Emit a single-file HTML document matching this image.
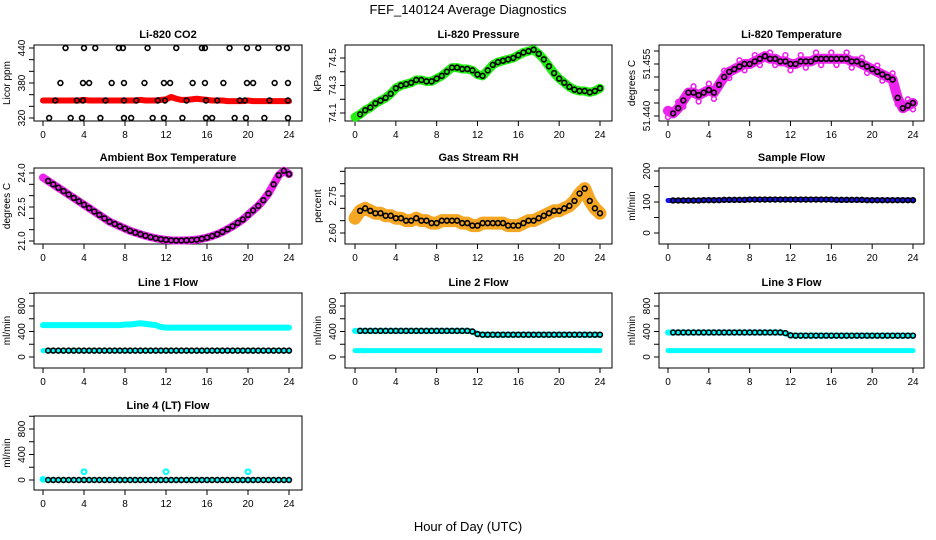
<!DOCTYPE html>
<html><head><meta charset="utf-8">
<style>
html,body{margin:0;padding:0;background:#fff;}
svg{display:block;font-family:"Liberation Sans",sans-serif;}
</style></head>
<body>
<svg id="chart" width="936" height="540" viewBox="0 0 936 540">
<text x="468" y="14" text-anchor="middle" font-size="13">FEF_140124  Average Diagnostics</text>
<text x="468" y="531" text-anchor="middle" font-size="13">Hour of Day (UTC)</text>
</svg>
<script>
// ---- data ----
const hours = [0,0.5,1,1.5,2,2.5,3,3.5,4,4.5,5,5.5,6,6.5,7,7.5,8,8.5,9,9.5,10,10.5,11,11.5,12,12.5,13,13.5,14,14.5,15,15.5,16,16.5,17,17.5,18,18.5,19,19.5,20,20.5,21,21.5,22,22.5,23,23.5,24];
const xTicks = [0,4,8,12,16,20,24];
const co2Red = [350,350,350,350,350,350,350,350,351,350,350,350,350,350,350,350,350,350,350,351,350,350,350,351,352,356,353,351,351,352,353,352,351,350,350,350,349,349,349,349,350,349,349,349,349,349,349,349,349];
const co2BlackHours = [2.2,4,5.1,7.4,7.8,10.2,13,15.5,15.8,18.2,19.9,21,23,23.8,1.7,3.9,4.5,6.7,7.9,9.9,11.8,12.4,14.6,15.8,17.6,19.9,20.5,22.6,23.9,0.6,2.7,3.8,5.6,7.9,8.6,10.7,11.8,13.6,15.9,16.5,18.7,19.8,21.6,23.9,1.2,3.3,3.9,6.1,7.9,9.1,11.2,11.9,14.0,15.9,17.0,19.2,19.7,22.1,23.9];
const co2Black = [440,440,440,440,440,440,440,440,440,440,440,440,440,440,380,380,380,380,380,380,380,380,380,380,380,380,380,380,380,320,320,320,320,320,320,320,320,320,320,320,320,320,320,320,350,350,350,350,350,350,350,350,350,350,350,350,350,350,350];
const pressure = [74.07,74.09,74.12,74.14,74.17,74.19,74.21,74.24,74.28,74.30,74.31,74.32,74.34,74.34,74.33,74.33,74.35,74.37,74.40,74.43,74.43,74.42,74.42,74.41,74.38,74.37,74.41,74.45,74.47,74.48,74.49,74.50,74.52,74.54,74.55,74.56,74.53,74.49,74.44,74.39,74.35,74.32,74.29,74.27,74.26,74.26,74.25,74.26,74.28];
const liTemp = [51.441,51.4405,51.4415,51.443,51.4445,51.4445,51.444,51.4445,51.445,51.4445,51.446,51.4475,51.4485,51.449,51.4495,51.450,51.450,51.4505,51.451,51.4515,51.451,51.451,51.4505,51.4505,51.450,51.450,51.4505,51.4505,51.4505,51.451,51.451,51.451,51.451,51.451,51.451,51.451,51.4505,51.4505,51.450,51.4495,51.449,51.4485,51.448,51.4475,51.447,51.4435,51.4415,51.442,51.4425];
const ambient = [23.8,23.65,23.5,23.35,23.2,23.05,22.9,22.75,22.6,22.45,22.3,22.15,22.0,21.85,21.75,21.65,21.55,21.45,21.37,21.3,21.23,21.17,21.12,21.08,21.05,21.03,21.02,21.02,21.03,21.04,21.06,21.1,21.15,21.22,21.3,21.4,21.52,21.65,21.8,21.95,22.15,22.35,22.55,22.8,23.1,23.5,23.9,24.1,23.95];
const rh = [2.66,2.69,2.70,2.69,2.68,2.68,2.67,2.67,2.66,2.66,2.65,2.65,2.66,2.65,2.65,2.64,2.64,2.65,2.65,2.65,2.65,2.64,2.64,2.63,2.63,2.64,2.64,2.64,2.64,2.64,2.63,2.63,2.63,2.64,2.65,2.65,2.66,2.67,2.68,2.69,2.69,2.70,2.71,2.73,2.76,2.78,2.73,2.70,2.68];
const sampleFlow = [105,105,105,105,105,105,105,106,106,106,106,107,107,107,107,107,108,108,108,108,108,108,108,108,108,108,108,108,108,108,108,108,108,107,107,107,107,107,107,106,106,106,106,106,106,106,106,106,106];
const line1High = [500,500,500,500,500,500,500,500,500,500,500,500,500,500,500,500,510,510,520,530,520,510,500,470,460,460,460,460,460,460,460,460,460,460,460,460,460,460,460,460,460,460,460,460,460,460,460,460,460];
const line1Low = [100,100,100,100,100,100,100,100,100,100,100,100,100,100,100,100,100,100,100,100,100,100,100,100,100,100,100,100,100,100,100,100,100,100,100,100,100,100,100,100,100,100,100,100,100,100,100,100,100];
const line2High = [410,410,410,410,410,410,410,410,410,410,410,410,410,410,410,410,410,410,410,410,410,410,410,400,360,350,350,350,350,350,350,350,350,350,350,350,350,350,350,350,350,350,350,350,350,350,350,350,350];
const line3High = [385,385,385,385,385,385,385,385,385,385,385,385,385,385,385,385,385,385,385,385,385,385,385,375,340,335,335,335,335,335,335,335,335,335,335,335,335,335,335,335,335,335,335,335,335,335,335,335,335];
const line4 = [0,0,0,0,0,0,0,0,0,0,0,0,0,0,0,0,0,0,0,0,0,0,0,0,0,0,0,0,0,0,0,0,0,0,0,0,0,0,0,0,0,0,0,0,0,0,0,0,0];
const line4OutHours = [0,4,12,20];
const line4Out = [10,130,130,130];

// ---- layout ----
const NS = 'http://www.w3.org/2000/svg';
const svg = document.getElementById('chart');
const cols = [{L:34,R:302,x0:43,x1:289},{L:345,R:612,x0:355,x1:600},{L:659,R:924,x0:668,x1:913}];
const rows = [{T:45,B:121},{T:168,B:244},{T:293,B:368},{T:416,B:490}];
function mk(tag, attrs, parent){const e=document.createElementNS(NS,tag);for(const k in attrs)e.setAttribute(k,attrs[k]);(parent||svg).appendChild(e);return e;}

function panel(name, title, ytitle, c, r, y1v, y1p, y2v, y2p, yticks, ylabels){
  const C=cols[c], R=rows[r];
  const g = mk('g',{});
  
  
  const sx = h => C.x0 + (C.x1-C.x0)*h/24;
  const sy = v => y1p + (v-y1v)*(y2p-y1p)/(y2v-y1v);
  const t = mk('text',{x:(C.L+C.R)/2,y:R.T-7,'text-anchor':'middle','font-size':11,'font-weight':'bold'},g);
  t.textContent = title;
  
  
  const box = mk('rect',{x:C.L,y:R.T,width:C.R-C.L,height:R.B-R.T,fill:'none',stroke:'#000','stroke-width':1},g);
  
  
  xTicks.forEach(h=>{
    mk('line',{x1:sx(h),x2:sx(h),y1:R.B,y2:R.B+5,stroke:'#000'},g);
    const tl = mk('text',{x:sx(h),y:R.B+17,'text-anchor':'middle','font-size':10},g);
    tl.textContent = h;
    
    
  });
  mk('line',{x1:sx(0),x2:sx(24),y1:R.B,y2:R.B,stroke:'#000'},g);
  yticks.forEach((v,i)=>{
    const y = sy(v);
    mk('line',{x1:C.L-5,x2:C.L,y1:y,y2:y,stroke:'#000'},g);
    if(ylabels[i]){
      const tl = mk('text',{x:C.L-9,y:y,'text-anchor':'middle','font-size':10,transform:`rotate(-90 ${C.L-9} ${y})`},g);
      tl.textContent = ylabels[i];
      
      
    }
  });
  const yc=(R.T+R.B)/2;
  const yt = mk('text',{x:C.L-24,y:yc,'text-anchor':'middle','font-size':10,transform:`rotate(-90 ${C.L-24} ${yc})`},g);
  yt.textContent = ytitle;
  
  
  return {g,sx,sy};
}
function band(p, hs, vs, color, w, name){
  const pts = hs.map((h,i)=>p.sx(h)+','+p.sy(vs[i])).join(' ');
  const pl = mk('polyline',{points:pts,fill:'none',stroke:color,'stroke-width':w,'stroke-linejoin':'round','stroke-linecap':'round'},p.g);
  
  
}
function circles(p, hs, vs, color, name, sw){
  hs.forEach((h,i)=>{
    const ci = mk('circle',{cx:p.sx(h),cy:p.sy(vs[i]),r:2.4,fill:'none',stroke:color,'stroke-width':sw||1.6},p.g);
    
    
  });
}
const bh = hours.slice(1), sl = a => a.slice(1);

let p = panel('co2','Li-820 CO2','Licor ppm',0,0,320,118,440,48,[320,340,360,380,400,420,440],['320','','','380','','','440']);
band(p,hours,co2Red,'#f00',6,'co2-red-series');
circles(p,co2BlackHours,co2Black,'#000','co2-black-point');

p = panel('pressure','Li-820 Pressure','kPa',1,0,74.1,113,74.5,58,[74.1,74.2,74.3,74.4,74.5],['74.1','','74.3','','74.5']);
band(p,hours,pressure,'#22ee11',9,'pressure-green-series');
circles(p,bh,sl(pressure),'#000','pressure-black-point');

p = panel('li-temp','Li-820 Temperature','degrees C',2,0,51.440,116,51.4525,51,[51.440,51.4425,51.445,51.4475,51.450,51.4525],['51.440','','','','51.455','']);
band(p,hours,liTemp,'#ee22ee',10,'li-temp-magenta-series');
circles(p,hours,liTemp.map((v,i)=>v+(i%3-1)*0.0012),'#ee22ee','li-temp-magenta-point');
circles(p,bh,sl(liTemp),'#000','li-temp-black-point');

p = panel('ambient','Ambient Box Temperature','degrees C',0,1,21,241,24,173,[21,21.5,22,22.5,23,23.5,24],['21.0','','','22.5','','','24.0']);
band(p,hours,ambient,'#ee22ee',8,'ambient-magenta-series');
circles(p,bh,sl(ambient),'#000','ambient-black-point');

p = panel('rh','Gas Stream RH','percent',1,1,2.60,233,2.75,196,[2.60,2.65,2.70,2.75,2.80,2.85],['2.60','','','2.75','','']);
band(p,hours,rh,'#f5a623',13,'rh-orange-series');
circles(p,bh,sl(rh),'#000','rh-black-point');

p = panel('sample-flow','Sample Flow','ml/min',2,1,0,233,200,171,[0,50,100,150,200],['0','','100','','200']);
band(p,hours,sampleFlow,'#1010ee',5,'sample-flow-blue-series');
circles(p,bh,sl(sampleFlow),'#000','sample-flow-black-point');

const fT=[0,200,400,600,800,1000], fL=['0','','400','','800',''];
p = panel('line1','Line 1 Flow','ml/min',0,2,0,357,800,306,fT,fL);
band(p,hours,line1High,'#00ffff',6,'line1-cyan-high-series');
band(p,hours,line1Low,'#00ffff',5,'line1-cyan-low-series');
circles(p,bh,sl(line1Low),'#000','line1-black-point');
p = panel('line2','Line 2 Flow','ml/min',1,2,0,357,800,306,fT,fL);
band(p,hours,line2High,'#00ffff',6,'line2-cyan-high-series');
band(p,hours,line1Low,'#00ffff',5,'line2-cyan-low-series');
circles(p,bh,sl(line2High),'#000','line2-black-point');
p = panel('line3','Line 3 Flow','ml/min',2,2,0,357,800,306,fT,fL);
band(p,hours,line3High,'#00ffff',6,'line3-cyan-high-series');
band(p,hours,line1Low,'#00ffff',5,'line3-cyan-low-series');
circles(p,bh,sl(line3High),'#000','line3-black-point');
p = panel('line4','Line 4 (LT) Flow','ml/min',0,3,0,480,800,429,fT,fL);
band(p,hours,line4,'#00ffff',5,'line4-cyan-series');
circles(p,line4OutHours,line4Out,'#00ffff','line4-cyan-outlier',2);
circles(p,bh,sl(line4),'#000','line4-black-point');
</script>
</body></html>
